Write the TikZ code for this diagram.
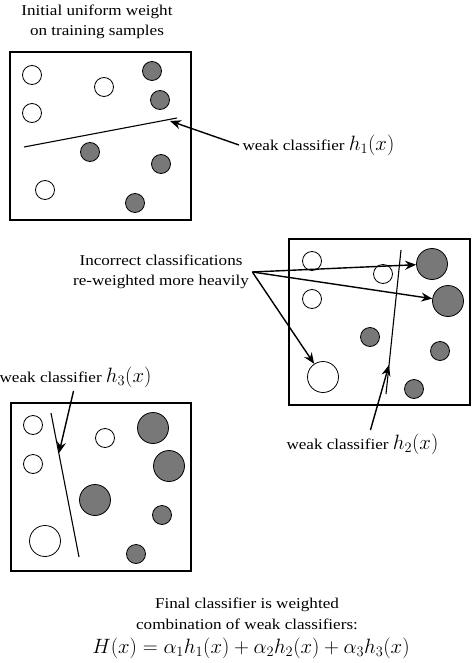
\documentclass[tikz,border=0pt]{standalone}
\usepackage{fontspec}
\setmainfont[FakeStretch=1.14]{Liberation Serif}
\usetikzlibrary{arrows.meta}
\definecolor{dotgray}{RGB}{120,120,120}
\newcommand{\weakh}[1]{{\fontsize{20}{24}\selectfont$h_{#1}(x)$}}

\begin{document}
\begin{tikzpicture}[x=1pt, y=-1pt,
    frame/.style   = {line width=1.8pt},
    wdot/.style    = {circle, draw, line width=0.8pt, fill=white, inner sep=0pt, minimum size=19pt},
    gdot/.style    = {wdot, fill=dotgray},
    big/.style     = {minimum size=31pt},
    split/.style   = {line width=1.1pt},
    pointer/.style = {line width=1.4pt, -{Stealth[length=11pt, width=9pt]}},
    txt/.style     = {font=\fontsize{15}{19.5}\selectfont, align=center}]
  \useasboundingbox (0, 0) rectangle (474, 663);

  % first round: uniform weights
  \node[txt] (title) at (97, 22) {Initial uniform weight\\on training samples};
  \draw[frame] (10, 52) rectangle (191, 220);
  \node[wdot] (a1) at (32, 75)   {};
  \node[wdot] (a2) at (104, 87)  {};
  \node[gdot] (a3) at (152, 71)  {};
  \node[gdot] (a4) at (160, 100) {};
  \node[wdot] (a5) at (32, 113)  {};
  \node[gdot] (a6) at (90, 152)  {};
  \node[gdot] (a7) at (161, 164) {};
  \node[wdot] (a8) at (45, 190)  {};
  \node[gdot] (a9) at (135, 203) {};
  \draw[split] (24, 147) -- (177, 118);
  \coordinate (tip1) at (170, 121);
  \node[txt, anchor=west] (lab1) at (239, 145) {weak classifier \weakh{1}};
  \draw[pointer] (lab1.west) -- (tip1);

  % second round: re-weighted
  \draw[frame] (289, 239) rectangle (470, 405);
  \node[wdot]      (b1) at (312, 261) {};
  \node[wdot]      (b2) at (383, 274) {};
  \node[gdot, big] (b3) at (432, 264) {};
  \node[wdot]      (b4) at (312, 299) {};
  \node[gdot, big] (b5) at (448, 301) {};
  \node[gdot]      (b6) at (370, 337) {};
  \node[gdot]      (b7) at (440, 351) {};
  \node[wdot, big] (b8) at (323, 377) {};
  \node[gdot]      (b9) at (414, 389) {};
  \draw[split] (401, 250) -- (386, 394);
  \node[txt] (wrong) at (161, 272) {Incorrect classifications\\re-weighted more heavily};
  \draw[pointer] (wrong.east) -- (b3);
  \draw[pointer] (wrong.east) -- (b5);
  \draw[pointer] (wrong.east) -- (b8);
  \coordinate (tip2) at (389, 365);
  \node[txt, anchor=west] (lab2) at (283, 444) {weak classifier \weakh{2}};
  \draw[pointer] ([xshift=8pt]lab2.north) -- (tip2);

  % third round
  \draw[frame] (11, 403) rectangle (191, 571);
  \node[wdot]      (c1) at (33, 425)  {};
  \node[wdot]      (c2) at (105, 438) {};
  \node[gdot, big] (c3) at (153, 428) {};
  \node[wdot]      (c4) at (33, 464)  {};
  \node[gdot, big] (c5) at (169, 466) {};
  \node[gdot, big] (c6) at (95, 500)  {};
  \node[gdot]      (c7) at (162, 515) {};
  \node[wdot, big] (c8) at (45, 541)  {};
  \node[gdot]      (c9) at (136, 554) {};
  \draw[split] (51, 413) -- (79, 557);
  \coordinate (tip3) at (59, 453);
  \node[txt, anchor=east] (lab3) at (155, 377) {weak classifier \weakh{3}};
  \draw[pointer] ([xshift=-2pt]lab3.south) -- (tip3);

  % combined result
  \node[txt, font=\fontsize{15}{21.5}\selectfont] (final) at (247, 614)
    {Final classifier is weighted\\combination of weak classifiers:};
  \node[font=\fontsize{21.5}{25}\selectfont] (sum) at (251, 648)
    {$H(x) = \alpha_1 h_1(x) + \alpha_2 h_2(x) + \alpha_3 h_3(x)$};
\end{tikzpicture}
\end{document}
